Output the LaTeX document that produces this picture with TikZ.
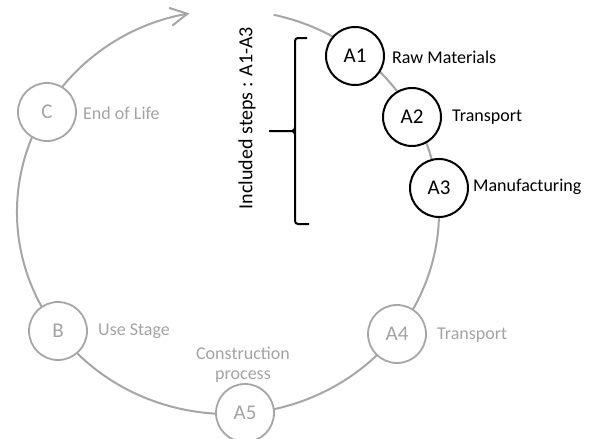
\documentclass[tikz,border=0pt]{standalone}
\usepackage{fontspec}
\setmainfont{Carlito}
\usetikzlibrary{arrows.meta}
\definecolor{lgray}{HTML}{A6A6A6}
\definecolor{tgray}{HTML}{A3A3A3}
\begin{document}
\begin{tikzpicture}[x=1pt,y=1pt,
  stage/.style={circle,draw=lgray,line width=1.8pt,fill=white,minimum size=58pt,inner sep=0pt,
    text=tgray,font=\fontsize{21}{24}\selectfont},
  incl/.style={circle,draw=black,line width=2pt,fill=white,minimum size=58pt,inner sep=0pt,
    text=black,font=\fontsize{21}{24}\selectfont},
  glabel/.style={anchor=west,inner sep=0pt,text=tgray,font=\fontsize{18}{20}\selectfont},
  blabel/.style={anchor=west,inner sep=0pt,text=black,font=\fontsize{18}{20}\selectfont}]
\useasboundingbox[clip] (0,0) rectangle (590,-439);
\coordinate (O) at (228,-212);
% cycle arc
\draw[lgray,line width=2pt,-{Straight Barb[length=17pt,width=18pt,line width=2pt]}]
  (O) ++(77.5:211pt and 202pt) arc[start angle=77.5,end angle=-259.5,x radius=211pt,y radius=202pt];
% stage nodes
\node[incl] (A1) at (355,-56) {A1};
\node[incl] (A2) at (412,-117) {A2};
\node[incl] (A3) at (439,-188) {A3};
\node[stage] (A4) at (397,-334) {A4};
\node[stage] (A5) at (245,-413) {A5};
\node[stage] (B) at (58,-331) {B};
\node[stage] (C) at (47,-112) {C};
% labels
\node[blabel] (lA1) at (392,-57) {Raw Materials};
\node[blabel] (lA2) at (452,-117) {Transport};
\node[blabel] (lA3) at (473,-187) {Manufacturing};
\node[glabel] (lA4) at (437,-335) {Transport};
\node[glabel] (lB) at (98,-331) {Use Stage};
\node[glabel] (lC) at (83,-113) {End of Life};
\node[inner sep=0pt,text=tgray,font=\fontsize{18}{20}\selectfont,align=center] (lA5) at (243,-365) {Construction\\process};
% bracket
\coordinate (bt) at (307,-38);
\coordinate (bb) at (309,-224);
\coordinate (bm) at (269,-131);
\draw[line width=2pt,rounded corners=3pt] (bt) -- (295,-38) -- (295,-224) -- (bb);
\draw[line width=2pt] (bm) -- (292,-131) to[out=0,in=-90] (295,-127);
\draw[line width=2pt] (292,-131) to[out=0,in=90] (295,-135);
\node[rotate=90,inner sep=0pt,font=\fontsize{20}{24}\selectfont] (incl) at (247,-118) {Included steps : A1-A3};
\end{tikzpicture}
\end{document}
